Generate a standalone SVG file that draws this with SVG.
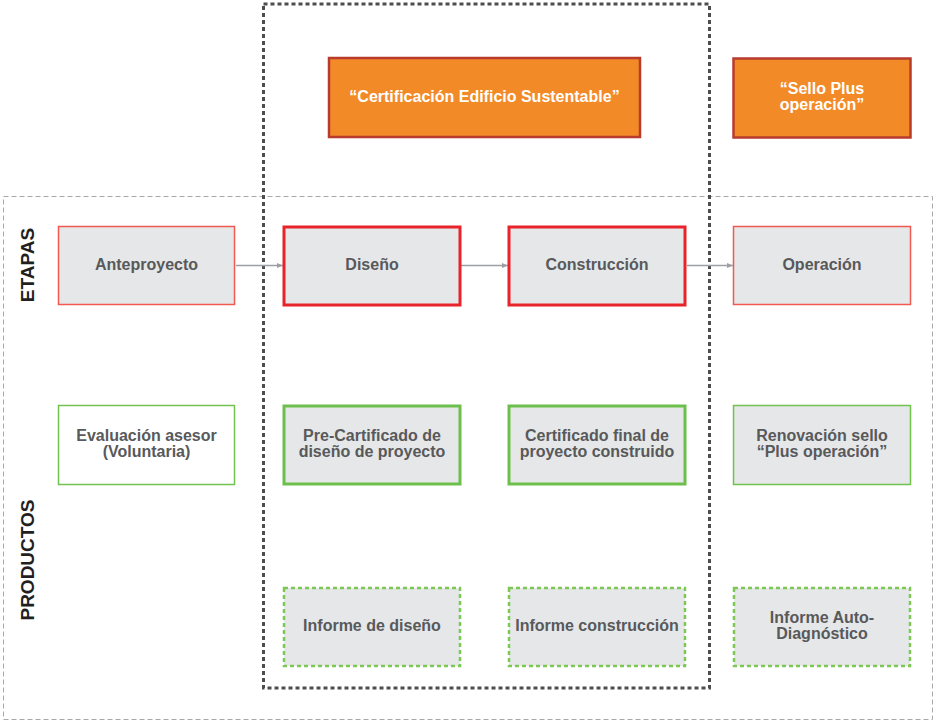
<svg xmlns="http://www.w3.org/2000/svg" width="936" height="723" viewBox="0 0 936 723">
  <style>
    .lbl { font-family: "Liberation Sans", Arial, sans-serif; font-weight: bold; font-size: 16px; fill: #58595b; text-anchor: middle; }
    .wht { fill: #ffffff; }
    .side { font-family: "Liberation Sans", Arial, sans-serif; font-weight: bold; font-size: 19px; fill: #231f20; text-anchor: middle; }
    .box { fill: #e6e7e8; }
    .red-thin { stroke: #f05a50; stroke-width: 1.5; }
    .red-thick { stroke: #e8232a; stroke-width: 3; }
    .grn-thin { stroke: #72c24e; stroke-width: 1.5; }
    .grn-thick { stroke: #6cbf4a; stroke-width: 3; }
    .grn-dash { stroke: #7cc853; stroke-width: 2.5; stroke-dasharray: 4 3; }
    .orange { fill: #f38a28; stroke: #b83b2c; stroke-width: 2.5; }
    .conn { stroke: #9d9fa2; stroke-width: 1.5; fill: none; marker-end: url(#arr); }
  </style>
  <defs>
    <marker id="arr" viewBox="0 0 10 10" refX="10" refY="5" markerWidth="6" markerHeight="6" orient="auto" markerUnits="userSpaceOnUse">
      <path d="M0,1 L10,5 L0,9 z" fill="#9d9fa2"/>
    </marker>
  </defs>
  <rect width="936" height="723" fill="#ffffff"/>

  <!-- frames -->
  <rect x="3.5" y="196.5" width="929" height="523" fill="none" stroke="#a7a9ac" stroke-width="1" stroke-dasharray="5 3"/>
  <rect x="263.5" y="4" width="446" height="684" fill="none" stroke="#4d4d4f" stroke-width="3" stroke-dasharray="4 3"/>

  <!-- side labels -->
  <text class="side" transform="translate(34,265) rotate(-90)">ETAPAS</text>
  <text class="side" transform="translate(34,560) rotate(-90)">PRODUCTOS</text>

  <!-- connectors -->
  <g id="connectors">
    <line class="conn" x1="236" y1="265.5" x2="283" y2="265.5"/>
    <line class="conn" x1="461" y1="265.5" x2="508" y2="265.5"/>
    <line class="conn" x1="687" y1="265.5" x2="733" y2="265.5"/>
  </g>

  <!-- certification labels -->
  <g id="cert-eds">
    <rect class="orange" x="329" y="58" width="311" height="79"/>
    <text class="lbl wht" x="484.5" y="102">“Certificación Edificio Sustentable”</text>
  </g>
  <g id="sello-plus">
    <rect class="orange" x="733.5" y="58.5" width="177" height="79"/>
    <text class="lbl wht" x="822" y="94">“Sello Plus</text>
    <text class="lbl wht" x="822" y="110">operación”</text>
  </g>

  <!-- stages -->
  <g id="anteproyecto">
    <rect class="box red-thin" x="58.5" y="226.5" width="176" height="78"/>
    <text class="lbl" x="146.5" y="270">Anteproyecto</text>
  </g>
  <g id="diseno">
    <rect class="box red-thick" x="284" y="227" width="176" height="78"/>
    <text class="lbl" x="372" y="270">Diseño</text>
  </g>
  <g id="construccion">
    <rect class="box red-thick" x="509" y="227" width="176" height="78"/>
    <text class="lbl" x="597" y="270">Construcción</text>
  </g>
  <g id="operacion">
    <rect class="box red-thin" x="733.5" y="226.5" width="177" height="78"/>
    <text class="lbl" x="822" y="270">Operación</text>
  </g>

  <!-- products -->
  <g id="evaluacion">
    <rect fill="#ffffff" class="grn-thin" x="58.5" y="405.5" width="176" height="79"/>
    <text class="lbl" x="146.5" y="441">Evaluación asesor</text>
    <text class="lbl" x="146.5" y="457">(Voluntaria)</text>
  </g>
  <g id="pre-certificado">
    <rect class="box grn-thick" x="284" y="406" width="176" height="78"/>
    <text class="lbl" x="372" y="441">Pre-Cartificado de</text>
    <text class="lbl" x="372" y="457">diseño de proyecto</text>
  </g>
  <g id="certificado-final">
    <rect class="box grn-thick" x="509" y="406" width="176" height="78"/>
    <text class="lbl" x="597" y="441">Certificado final de</text>
    <text class="lbl" x="597" y="457">proyecto construido</text>
  </g>
  <g id="renovacion">
    <rect class="box grn-thin" x="733.5" y="405.5" width="177" height="79"/>
    <text class="lbl" x="822" y="441">Renovación sello</text>
    <text class="lbl" x="822" y="457">“Plus operación”</text>
  </g>

  <g id="informe-diseno">
    <rect class="box grn-dash" x="284" y="588" width="176" height="78"/>
    <text class="lbl" x="372" y="631">Informe de diseño</text>
  </g>
  <g id="informe-construccion">
    <rect class="box grn-dash" x="509" y="588" width="176" height="78"/>
    <text class="lbl" x="597" y="631">Informe construcción</text>
  </g>
  <g id="informe-auto">
    <rect class="box grn-dash" x="734" y="588" width="176" height="78"/>
    <text class="lbl" x="822" y="623">Informe Auto-</text>
    <text class="lbl" x="822" y="639">Diagnóstico</text>
  </g>
</svg>
